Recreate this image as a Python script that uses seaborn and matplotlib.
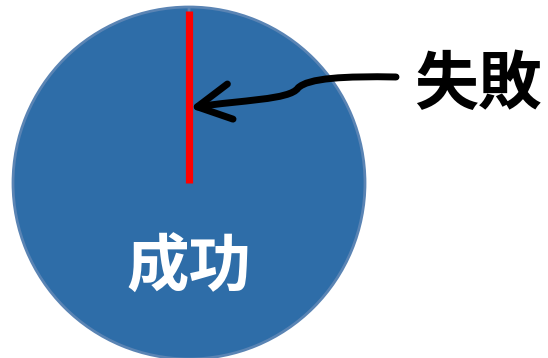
"""Pie chart: 成功 vs 失敗 with an arrow pointing to the tiny failure slice."""

import matplotlib

matplotlib.use("Agg")
import matplotlib.pyplot as plt
import numpy as np
import seaborn as sns
from matplotlib.patches import FancyArrowPatch
from matplotlib.path import Path

LABELS = ["成功", "失敗"]
VALUES = [100, 0]
COLORS = ["#2E6DA8", "#FF0000"]

W, H = 548, 358


def py(y):
    # pixel row (top-down) -> data y (bottom-up)
    return H - y


def main() -> None:
    sns.set_theme(style="white")
    plt.rcParams["font.family"] = ["Noto Sans CJK JP", "DejaVu Sans"]

    fig = plt.figure(figsize=(W / 100, H / 100), dpi=100)
    ax = fig.add_axes([0, 0, 1, 1])

    cx, cy, r = 189, py(183), 176
    wedges, _ = ax.pie(
        VALUES, colors=COLORS[:1] * 2, startangle=90, counterclock=False,
        center=(cx, cy), radius=r,
        wedgeprops=dict(edgecolor="#5A84B4", linewidth=2),
    )

    # failure slice boundary drawn in red (zero-width wedge)
    ang = np.deg2rad(wedges[1].theta1)
    ax.plot([cx, cx + (r - 4) * np.cos(ang)], [cy, cy + (r - 4) * np.sin(ang)],
            color=COLORS[1], lw=5.2, solid_capstyle="butt", zorder=3)

    ax.text(cx, py(268), LABELS[0], color="white", fontsize=45,
            fontweight="bold", ha="center", va="center")
    ax.text(478, py(85), LABELS[1], color="black", fontsize=46,
            fontweight="bold", ha="center", va="center")

    verts = [(396, 77), (345, 76), (308, 78), (298, 88),
             (290, 100), (240, 100), (190, 108)]
    codes = [Path.MOVETO] + [Path.CURVE4] * 6
    path = Path([(x, py(y)) for x, y in verts], codes)
    arrow = FancyArrowPatch(
        path=path, arrowstyle="->,head_length=0.6,head_width=0.32",
        mutation_scale=40, lw=5, color="black", zorder=4,
        capstyle="round", joinstyle="round",
    )
    ax.add_patch(arrow)

    ax.set_xlim(0, W)
    ax.set_ylim(0, H)
    ax.set_aspect("auto")
    ax.axis("off")

    fig.savefig("out.png", dpi=100)
    plt.close(fig)


if __name__ == "__main__":
    main()
